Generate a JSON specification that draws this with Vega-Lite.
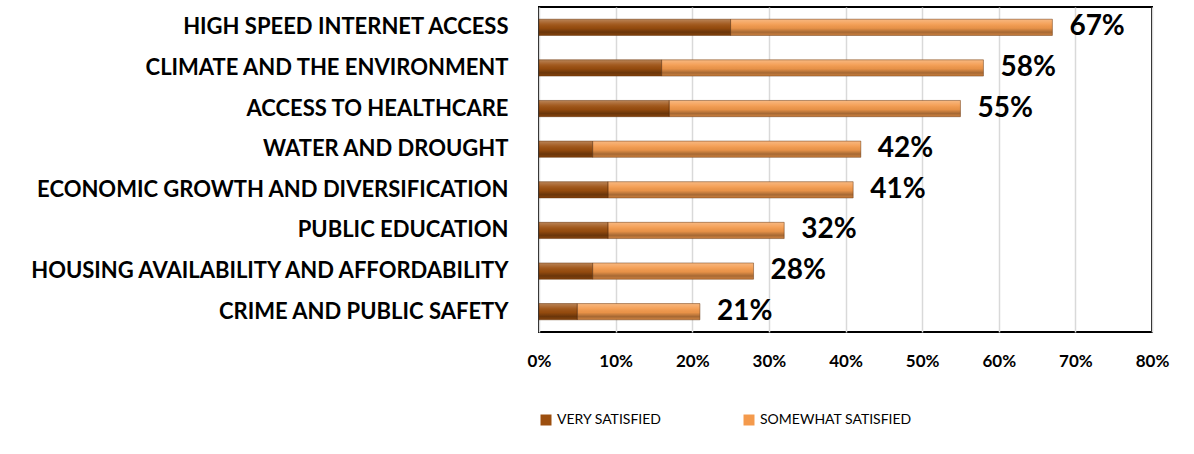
{
  "$schema": "https://vega.github.io/schema/vega-lite/v6.json",
  "width": 613,
  "height": 325,
  "autosize": {"type": "none"},
  "padding": {"left": 539, "top": 7, "right": 42, "bottom": 122},
  "background": "white",
  "config": {
    "view": {"stroke": "black", "strokeWidth": 2},
    "font": "Lato"
  },
  "data": {
    "values": [
      {"category": "High speed internet access", "series": "Very Satisfied", "value": 0.25},
      {"category": "High speed internet access", "series": "Somewhat Satisfied", "value": 0.42},
      {"category": "Climate and the environment", "series": "Very Satisfied", "value": 0.16},
      {"category": "Climate and the environment", "series": "Somewhat Satisfied", "value": 0.42},
      {"category": "Access to healthcare", "series": "Very Satisfied", "value": 0.17},
      {"category": "Access to healthcare", "series": "Somewhat Satisfied", "value": 0.38},
      {"category": "Water and drought", "series": "Very Satisfied", "value": 0.07},
      {"category": "Water and drought", "series": "Somewhat Satisfied", "value": 0.35},
      {"category": "Economic growth and diversification", "series": "Very Satisfied", "value": 0.09},
      {"category": "Economic growth and diversification", "series": "Somewhat Satisfied", "value": 0.32},
      {"category": "Public education", "series": "Very Satisfied", "value": 0.09},
      {"category": "Public education", "series": "Somewhat Satisfied", "value": 0.23},
      {"category": "Housing availability and affordability", "series": "Very Satisfied", "value": 0.07},
      {"category": "Housing availability and affordability", "series": "Somewhat Satisfied", "value": 0.21},
      {"category": "Crime and public safety", "series": "Very Satisfied", "value": 0.05},
      {"category": "Crime and public safety", "series": "Somewhat Satisfied", "value": 0.16}
    ]
  },
  "encoding": {
    "y": {
      "field": "category",
      "type": "nominal",
      "sort": null,
      "scale": {"paddingInner": 0.6, "paddingOuter": 0.3},
      "axis": {
        "title": null,
        "ticks": false,
        "domain": false,
        "labelExpr": "upper(datum.label)",
        "labelFont": "Lato",
        "labelFontSize": 22,
        "labelFontWeight": "bold",
        "labelColor": "black",
        "labelPadding": 31,
        "labelLimit": 600
      }
    }
  },
  "layer": [
    {
      "mark": {"type": "bar"},
      "encoding": {
        "x": {
          "field": "value",
          "type": "quantitative",
          "stack": "zero",
          "scale": {"domain": [0, 0.8]},
          "axis": {
            "title": null,
            "format": ".0%",
            "values": [0, 0.1, 0.2, 0.3, 0.4, 0.5, 0.6, 0.7, 0.8],
            "ticks": false,
            "domain": false,
            "grid": true,
            "gridColor": "#D9D9D9",
            "gridWidth": 1.5,
            "labelFont": "Lato",
            "labelFontSize": 17,
            "labelFontWeight": "bold",
            "labelColor": "black",
            "labelPadding": 21,
            "labelFlush": false,
            "labelOverlap": false
          }
        },
        "color": {
          "field": "series",
          "type": "nominal",
          "scale": {
            "domain": ["Very Satisfied", "Somewhat Satisfied"],
            "range": ["#9C4F0F", "#F49A4C"]
          },
          "legend": {
            "title": null,
            "orient": "bottom",
            "direction": "horizontal",
            "symbolType": "square",
            "symbolSize": 121,
            "symbolStrokeWidth": 0,
            "labelExpr": "upper(datum.label)",
            "labelFont": "Lato",
            "labelFontSize": 14,
            "labelColor": "black",
            "columnPadding": 80,
            "offset": 44
          }
        },
        "order": {"field": "series", "sort": "descending"}
      }
    },
    {
      "mark": {
        "type": "bar",
        "stroke": "#5a2a05",
        "strokeOpacity": 0.45,
        "strokeWidth": 1,
        "color": {
          "gradient": "linear",
          "x1": 0, "y1": 0, "x2": 0, "y2": 1,
          "stops": [
            {"offset": 0, "color": "rgba(255,255,255,0.3)"},
            {"offset": 0.3, "color": "rgba(255,255,255,0.08)"},
            {"offset": 0.55, "color": "rgba(0,0,0,0.05)"},
            {"offset": 0.8, "color": "rgba(0,0,0,0.32)"},
            {"offset": 1, "color": "rgba(0,0,0,0.15)"}
          ]
        }
      },
      "encoding": {
        "x": {"field": "value", "type": "quantitative", "stack": "zero"},
        "detail": {"field": "series"},
        "order": {"field": "series", "sort": "descending"}
      }
    },
    {
      "transform": [
        {"aggregate": [{"op": "sum", "field": "value", "as": "total"}], "groupby": ["category"]}
      ],
      "mark": {
        "type": "text",
        "align": "left",
        "baseline": "middle",
        "dx": 17,
        "font": "Lato",
        "fontSize": 28,
        "fontWeight": "bold",
        "color": "black"
      },
      "encoding": {
        "x": {"field": "total", "type": "quantitative"},
        "text": {"field": "total", "type": "quantitative", "format": ".0%"}
      }
    }
  ]
}
